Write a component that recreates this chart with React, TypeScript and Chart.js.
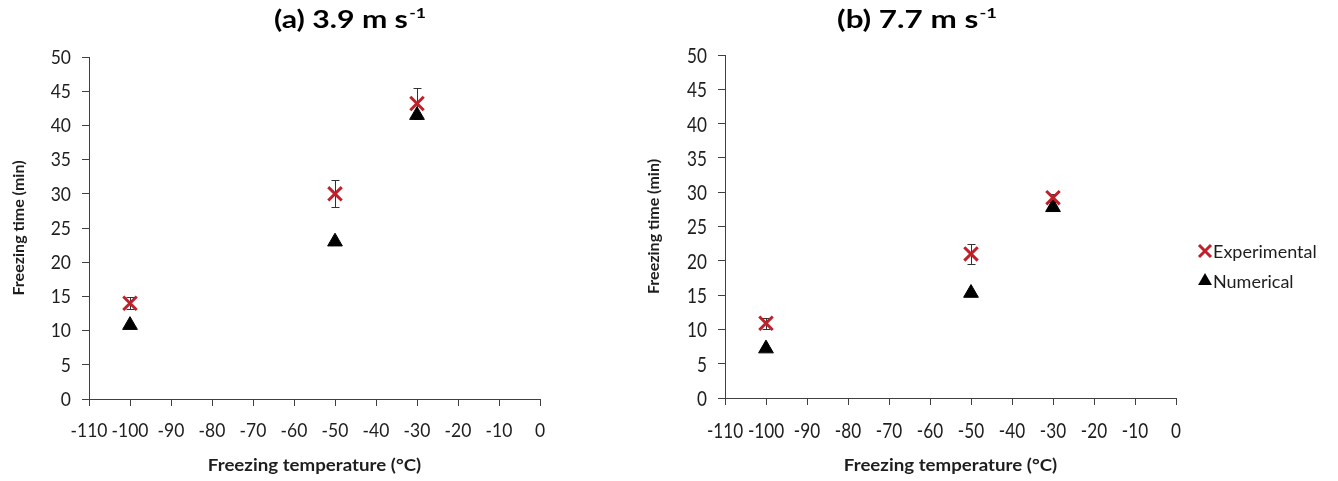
import React, { useEffect, useRef } from "react";
import { Chart, registerables } from "chart.js";

Chart.register(...registerables);

// ---- Data ----
const temperatures = [-100, -50, -30];

const expA = [14, 30, 43.2];
const errA = [0.9, 2.0, 2.2];
const numA = [10.8, 23, 41.5];

const expB = [10.9, 21, 29.2];
const errB = [0.8, 1.5, 0.6];
const numB = [7.2, 15.3, 27.8];

const xMin = -110;
const xMax = 0;
const xStep = 10;
const yMin = 0;
const yMax = 50;
const yStep = 5;

const xTitle = "Freezing temperature (°C)";
const yTitle = "Freezing time (min)";
const legendLabels = ["Experimental", "Numerical"];

const RED = "#C0202A";
const FONT = "Lato, 'Open Sans', sans-serif";
const AXIS_COLOR = "#404040";
const TEXT_COLOR = "#1e1e1e";

function drawScaled(ctx: CanvasRenderingContext2D, text: string, x: number, y: number, sx: number) {
  ctx.save();
  ctx.translate(x, y);
  ctx.scale(sx, 1);
  ctx.fillText(text, 0, 0);
  ctx.restore();
}

function titlePlugin(main: string, sup: string, cx: number, baseline: number, targetWidth: number) {
  return {
    id: "supTitle",
    afterDraw(chart: any) {
      const ctx = chart.ctx as CanvasRenderingContext2D;
      ctx.save();
      ctx.fillStyle = "#000";
      ctx.textBaseline = "alphabetic";
      ctx.textAlign = "left";
      ctx.font = `bold 24px ${FONT}`;
      const w1 = ctx.measureText(main).width;
      ctx.font = `bold 14px ${FONT}`;
      const w2 = ctx.measureText(sup).width;
      const sx = targetWidth / (w1 + w2 + 1);
      const x0 = cx - targetWidth / 2;
      ctx.font = `bold 24px ${FONT}`;
      drawScaled(ctx, main, x0, baseline, sx);
      ctx.font = `bold 14px ${FONT}`;
      drawScaled(ctx, sup, x0 + (w1 + 1) * sx, baseline - 10, sx);
      ctx.restore();
    },
  };
}

function axisTextPlugin(
  tickSize: number,
  tickSx: number,
  xBaseline: number,
  yRight: number,
  xTitleBaseline: number,
  xTitleSize: number,
  xTitleSx: number
) {
  return {
    id: "axisText",
    afterDraw(chart: any) {
      const ctx = chart.ctx as CanvasRenderingContext2D;
      const xs = chart.scales.x;
      const ys = chart.scales.y;
      ctx.save();
      ctx.fillStyle = TEXT_COLOR;
      ctx.font = `${tickSize}px ${FONT}`;
      ctx.textBaseline = "alphabetic";
      ctx.textAlign = "center";
      xs.ticks.forEach((t: any) => {
        drawScaled(ctx, String(t.label), xs.getPixelForValue(t.value), xBaseline, tickSx);
      });
      ctx.textAlign = "right";
      ys.ticks.forEach((t: any) => {
        drawScaled(ctx, String(t.label), yRight, ys.getPixelForValue(t.value) + tickSize * 0.36, tickSx);
      });
      ctx.textAlign = "center";
      ctx.font = `bold ${xTitleSize}px ${FONT}`;
      drawScaled(ctx, xTitle, (chart.chartArea.left + chart.chartArea.right) / 2, xTitleBaseline, xTitleSx);
      ctx.restore();
    },
  };
}

function errorBarPlugin(values: number[], errs: number[]) {
  return {
    id: "errorBars",
    beforeDatasetsDraw(chart: any) {
      const ctx = chart.ctx as CanvasRenderingContext2D;
      const xs = chart.scales.x;
      const ys = chart.scales.y;
      ctx.save();
      ctx.strokeStyle = "#333";
      ctx.lineWidth = 1;
      temperatures.forEach((t, i) => {
        const x = Math.round(xs.getPixelForValue(t)) + 0.5;
        const yTop = Math.round(ys.getPixelForValue(values[i] + errs[i])) + 0.5;
        const yBot = Math.round(ys.getPixelForValue(values[i] - errs[i])) + 0.5;
        ctx.beginPath();
        ctx.moveTo(x, yTop);
        ctx.lineTo(x, yBot);
        ctx.moveTo(x - 4, yTop);
        ctx.lineTo(x + 4, yTop);
        ctx.moveTo(x - 4, yBot);
        ctx.lineTo(x + 4, yBot);
        ctx.stroke();
      });
      ctx.restore();
    },
  };
}

function legendPlugin(x: number, y1: number, y2: number, textX: number) {
  return {
    id: "customLegend",
    afterDraw(chart: any) {
      const ctx = chart.ctx as CanvasRenderingContext2D;
      ctx.save();
      const a = 6;
      ctx.strokeStyle = RED;
      ctx.lineWidth = 3;
      ctx.beginPath();
      ctx.moveTo(x - a, y1 - a);
      ctx.lineTo(x + a, y1 + a);
      ctx.moveTo(x - a, y1 + a);
      ctx.lineTo(x + a, y1 - a);
      ctx.stroke();
      const r = 8;
      ctx.fillStyle = "#000";
      ctx.beginPath();
      ctx.moveTo(x, y2 - r);
      ctx.lineTo(x + r * 0.866, y2 + r * 0.5);
      ctx.lineTo(x - r * 0.866, y2 + r * 0.5);
      ctx.closePath();
      ctx.fill();
      ctx.fillStyle = TEXT_COLOR;
      ctx.font = `18px ${FONT}`;
      ctx.textBaseline = "alphabetic";
      ctx.textAlign = "left";
      ctx.fillText(legendLabels[0], textX, y1 + 6.5);
      ctx.fillText(legendLabels[1], textX, y2 + 6.5);
      ctx.restore();
    },
  };
}

function makeConfig(
  exp: number[],
  num: number[],
  padding: { top: number; right: number },
  yWidth: number,
  xHeight: number,
  yTitlePad: number,
  plugins: any[]
) {
  return {
    type: "scatter" as const,
    data: {
      datasets: [
        {
          label: legendLabels[0],
          data: temperatures.map((t, i) => ({ x: t, y: exp[i] })),
          pointStyle: "crossRot",
          radius: 9.5,
          borderWidth: 3,
          borderColor: RED,
          backgroundColor: RED,
        },
        {
          label: legendLabels[1],
          data: temperatures.map((t, i) => ({ x: t, y: num[i] })),
          pointStyle: "triangle",
          radius: 8.5,
          borderWidth: 1,
          borderColor: "#000",
          backgroundColor: "#000",
        },
      ],
    },
    options: {
      animation: false,
      responsive: false,
      maintainAspectRatio: false,
      layout: { padding: { top: padding.top, right: padding.right, left: 0, bottom: 0 } },
      plugins: {
        legend: { display: false },
        tooltip: { enabled: false },
        title: { display: false },
      },
      scales: {
        x: {
          type: "linear",
          min: xMin,
          max: xMax,
          afterFit: (s: any) => {
            s.height = xHeight;
          },
          ticks: {
            stepSize: xStep,
            display: false,
            autoSkip: false,
          },
          grid: {
            drawOnChartArea: false,
            drawTicks: true,
            tickLength: 7,
            color: AXIS_COLOR,
          },
          border: { display: true, color: AXIS_COLOR, width: 1 },
          title: { display: false },
        },
        y: {
          type: "linear",
          min: yMin,
          max: yMax,
          afterFit: (s: any) => {
            s.width = yWidth;
          },
          ticks: {
            stepSize: yStep,
            display: false,
          },
          grid: {
            drawOnChartArea: false,
            drawTicks: true,
            tickLength: 7,
            color: AXIS_COLOR,
          },
          border: { display: true, color: AXIS_COLOR, width: 1 },
          title: {
            display: true,
            text: yTitle,
            color: TEXT_COLOR,
            font: { family: FONT, size: 16, weight: "bold" },
            padding: { top: yTitlePad, bottom: 0 },
          },
        },
      },
    },
    plugins,
  };
}

function ChartCanvas(props: { width: number; left: number; build: () => any }) {
  const ref = useRef<HTMLCanvasElement | null>(null);
  useEffect(() => {
    if (!ref.current) return;
    const chart = new Chart(ref.current, props.build());
    return () => chart.destroy();
  }, []);
  return (
    <canvas
      ref={ref}
      width={props.width}
      height={481}
      style={{ position: "absolute", left: props.left, top: 0, width: props.width, height: 481 }}
    />
  );
}

export default function App() {
  return (
    <div style={{ position: "absolute", left: 0, top: 0, width: 1338, height: 481, background: "#fff" }}>
      <ChartCanvas
        width={620}
        left={0}
        build={() =>
          makeConfig(expA, numA, { top: 57, right: 80 }, 89, 82, 9, [
            titlePlugin("(a) 3.9 m s", "-1", 350, 28, 152),
            axisTextPlugin(19, 0.92, 437, 71, 471, 17, 1.1),
            errorBarPlugin(expA, errA),
          ])
        }
      />
      <ChartCanvas
        width={718}
        left={620}
        build={() =>
          makeConfig(expB, numB, { top: 55, right: 162 }, 105, 83, 24, [
            titlePlugin("(b) 7.7 m s", "-1", 297, 28, 160),
            axisTextPlugin(22, 0.78, 438, 87, 471, 17, 1.1),
            errorBarPlugin(expB, errB),
            legendPlugin(585, 251, 281, 593),
          ])
        }
      />
    </div>
  );
}
